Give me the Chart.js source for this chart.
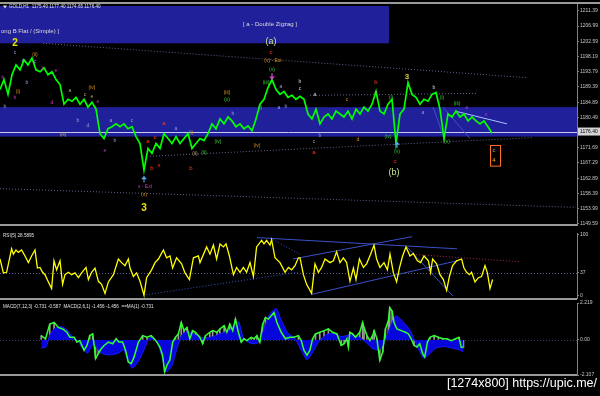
<!DOCTYPE html>
<html><head><meta charset="utf-8">
<script src="https://cdn.jsdelivr.net/npm/chart.js@4.4.1/dist/chart.umd.min.js"></script>
<style>
html,body{margin:0;padding:0;background:#000;width:600px;height:396px;overflow:hidden;position:relative}
canvas{position:absolute;left:0}
#src{position:absolute;right:3px;top:376px;color:#fff;font:12.5px "Liberation Sans",Arial,sans-serif;white-space:nowrap}
</style></head><body>
<canvas id="cMain" width="600" height="229" style="top:0"></canvas>
<canvas id="cRsi" width="600" height="73" style="top:229px"></canvas>
<canvas id="cMacd" width="600" height="97" style="top:299px"></canvas>
<div id="src">[1274x800] https://upic.me/</div>
<script>
// ================= DATA =================
const priceTicks = [1211.39,1206.99,1202.59,1198.19,1193.79,1189.39,1184.89,1180.49,1171.69,1167.29,1162.89,1158.39,1153.99,1149.59];
const lastPrice = 1176.40;
const priceClose = [
1188.60,1191.45,1187.17,1192.87,1195.72,1194.29,1197.14,1195.72,1197.71,1194.29,
1193.72,1194.86,1192.87,1193.72,1191.45,1190.02,1184.33,1185.75,1185.18,1186.32,
1184.33,1185.75,1183.47,1184.90,1182.90,1175.78,1174.36,1177.21,1177.78,1178.63,
1177.78,1178.63,1177.21,1177.78,1174.93,1172.93,1165.24,1171.51,1170.09,1172.93,
1171.51,1175.78,1174.36,1172.93,1174.93,1172.93,1174.36,1175.78,1171.51,1172.93,
1174.36,1173.79,1175.78,1178.63,1177.21,1180.05,1178.63,1180.62,1179.48,1177.78,
1178.63,1177.21,1178.06,1176.64,1180.05,1184.33,1185.75,1189.17,1191.45,1188.60,
1187.17,1188.03,1186.32,1186.89,1185.75,1186.60,1185.75,1181.48,1180.05,1182.90,
1178.63,1180.62,1181.48,1180.05,1182.33,1181.48,1180.62,1182.33,1180.05,1182.90,
1181.48,1183.47,1182.33,1184.33,1188.03,1182.33,1181.48,1184.33,1185.75,1172.93,
1181.48,1182.90,1190.59,1187.17,1186.32,1184.33,1185.75,1185.18,1187.17,1187.74,
1182.90,1174.36,1181.48,1180.62,1182.33,1180.62,1181.48,1179.48,1180.62,1179.48,
1178.63,1179.48,1177.78,1175.90];
const priceBars = priceClose.map((_, i) => i * 2);

const rsiTicks = [100, 37, 0];
const rsiBars = [0,1.7,3.3,5.8,6.7,8,9.2,10.8,12.5,14.2,15.8,17.5,18.7,20,21.3,22.5,24.2,25.8,27,28.3,
30,31.3,32.5,34.2,35.8,37.5,39.2,40.8,43,44.2,45.8,47.5,49.2,50.8,52.5,54.2,56.7,59.2,60.8,62.5,
64.2,65,66.7,68.3,70,72,73.3,75.8,77.5,79.2,81.7,83.3,85,86.3,88.3,90.8,92.5,94.7,96.7,99.2,
100,103.3,105,106.7,108.3,110,111.7,113,114.7,116.7,118.3,120,121.7,123.3,125,126.7,128.3,130.8,132,133.3,
135,135.8,137.5,140,142.5,144.2,145.8,147.5,149.2,
150,151.7,153.3,155.8,157.5,159.2,160.8,162.5,165,166.7,168.3,170,171.7,173.3,175,176.7,178,179.7,181.7,183.3,
185.3,187,188.3,190,192,193.7,195,196.7,198.3,199.7,201.3,203,205,206.7,208.7,210.3,212,214.2,215.3,216.3,
218.3,220,221.7,223.3,224.7,226.3,228.3,230.8,232,233.3,234.7,235.8,237.5,239.2,240.8,242.5,243.7,245,246.3];
const rsiValues = [60,37,38,77,68,75,71,75,65,54,65,75,45,46,38,34,22,11,57,42,
57,18,34,38,34,37,29,37,46,26,38,45,23,18,3,22,34,60,54,49,
60,45,31,37,23,0,29,42,54,60,75,62,65,45,62,52,37,26,62,65,
54,80,68,83,60,85,80,85,65,34,46,38,46,38,54,31,80,91,85,91,
83,92,62,54,38,46,42,49,62,
62,34,18,3,52,38,46,60,54,57,72,54,62,54,23,45,26,60,46,52,
68,83,60,46,54,42,68,37,22,45,65,80,65,69,57,54,65,57,38,60,
52,34,26,8,31,49,57,60,45,38,34,38,22,29,31,49,37,11,26];

const macdTicks = [2.219, 0, -2.107];
const macdBars = [0,2.5,5,7.5,10,12.5,15,16.7,19.2,20.8,22.5,25,26.7,28.3,30,30.8,31.7,33.3,35,36.7,
39.2,41.7,43.7,45.3,47.5,49.2,50.8,52.5,54.2,56.7,59.2,61.7,64.2,65.8,67.5,69.2,70.8,72,73.3,75,
76.7,78.3,80,81.7,83.3,85,86.7,88.3,90,92.5,94.2,95.8,98.3,100,102.5,104.2,106.7,108.3,110,111.7,
113.3,115,116.7,118.3,120,122.5,124.2,125.8,127.5,129.2,130.8,132.5,134.2,135.8,137.5,140,142.5,145,147.5,150,
151.7,153.3,155,156.7,158.3,160,162.5,165,167.5,170,172.5,175,176.7,178.3,179.2,180,181.7,183.3,185.8,187.5,
188.3,190,191.7,193.3,194.2,195.8,197.5,199.2,200.8,202.5,203.3,204.7,205.8,207.5,210,212.5,214.2,215.8,217.5,219.2,
220.8,222.5,223.7,225.3,226.7,229.2,231.7,234.2,236.7,239.2,241.7,243.7,245,246.3];
const macdFast = [0.26,0.07,0.95,1.05,0.75,0.66,0.46,0.16,0.16,-0.13,-0.04,-0.63,-0.33,0.26,0.36,-0.23,-1.12,-0.82,-0.53,-0.33,
-0.13,-0.23,0.07,-0.13,-0.13,-0.63,-1.32,-1.42,-1.02,-0.13,0.26,0.16,0.26,0.07,-0.13,-0.43,-0.92,-1.91,-1.52,-1.22,
-0.13,0.16,0.36,1.05,0.56,0.75,0.07,0.56,0.46,0.16,-0.23,0.26,0.46,0.56,0.46,0.66,0.85,0.46,0.95,0.56,
1.25,0.46,-0.13,0.07,-0.04,0.16,0.07,0.26,-0.13,0.95,1.35,1.25,1.45,1.64,1.05,0.46,0.07,0.16,0.16,0.26,
-0.04,-0.63,-0.92,-0.63,0.07,0.36,0.46,0.56,0.66,0.46,0.36,-0.33,-0.23,0.07,-0.43,0.46,0.36,0.16,0.46,1.05,
0.75,0.26,-0.04,0.26,0.56,0.07,-1.22,-0.73,0.66,1.15,1.94,1.74,1.05,0.66,0.56,0.46,0.36,0.07,-0.33,-0.43,
-0.23,-0.82,-1.02,-0.13,0.16,0.26,0.16,0.07,0.07,-0.04,0.07,0.16,-0.43,-0.45];
const signalBars = [0,3,5,8,12,15,18,21,24,27,30,32,35,40,45,48,50,53,56,60,63,66,69,73,76,79,82,85,90,95,
100,105,110,115,118,122,126,129,133,137,140,144,148,152,155,158,162,166,170,175,180,185,190,193,197,200,
204,207,211,215,219,223,226,230,235,240,244,246.3];
const signalValues = [-0.5,-0.4,0.3,0.7,0.8,0.6,0.2,0.0,-0.5,-0.8,-0.3,-0.4,-0.8,-0.9,-0.8,-0.6,-1.1,-1.7,-1.4,-0.6,
0.1,0.1,-0.5,-1.9,-1.6,-0.6,0.3,0.5,0.3,0.1,0.2,0.4,0.6,1.1,0.1,-0.2,-0.2,0.4,1.5,1.9,
1.2,0.4,0.1,-0.7,-1.2,-0.8,-0.1,0.3,0.4,0.2,0.3,0.2,-0.2,-0.5,-0.6,-0.2,0.9,1.45,1.1,0.6,
-0.3,-1.1,-0.9,-0.5,-0.4,-0.5,-0.6,-0.73];

// ================= ANNOTATIONS (data coordinates: bar, value) =================
const Y='#e6e600', R='#ff3c1e', O='#d8901c', G='#38c838', L='#9c9cdc', M='#c83cc8', W='#dcdcdc', T='#b4a46c', P='#c8e68c';
const mainZones = [[0,194.5,1212.81,1201.98,'#20209a'],[0,288.5,1183.47,1174.93,'#20209a']];
const mainLines = [
 [21.5,1201.98,264,1192.0,'#62628e',[1,2]],
 [155,1186.89,238.5,1187.46,'#62628e',[1,2]],
 [0,1159.83,288,1154.42,'#62628e',[1,2]],
 [75,1169.23,266.5,1174.64,'#62628e',[1,2]],
 [227.5,1182.33,253.5,1178.63,'#a8c0ff',[]],
 [216.5,1183.47,222.5,1173.79,'#4050c0',[]],
 [221.5,1183.47,235,1174.36,'#4050c0',[]]];
const waveLabels = [
 [0.5,1205.40,'ong B Flat / (Simple) ]',W,6,false,'left'],
 [135,1207.40,'[ a - Double Zigzag ]',W,6],
 [7.5,1201.98,'2',Y,10,true],[7.5,1199.14,'c',L,5],[11.5,1196.86,'a',L,5],[17.5,1198.57,'(ii)',O,5],
 [17.5,1196.57,'c',L,5],[21.5,1194.58,'b',M,5],[28,1194.01,'e',M,5],[9,1188.03,'(i)',O,5],
 [13.5,1190.59,'b',L,5],[7.5,1186.32,'b',M,5],[2.5,1183.76,'b',L,5],[1.5,1192.02,'b',M,5],
 [35,1188.31,'a',T,5],[46,1189.17,'(iv)',O,5],[42.5,1187.17,'c',T,5],[46,1186.60,'e',T,5],
 [49,1185.18,'e',M,5],[26,1184.90,'d',M,5],[39,1179.48,'b',L,5],[44,1178.06,'d',L,5],
 [31.5,1175.50,'(iii)',T,5],[55.5,1179.48,'a',L,5],[57.5,1173.79,'b',L,5],[66,1179.48,'c',L,5],
 [52.5,1170.94,'e',M,5],[74,1173.50,'a',R,6],[77.5,1174.64,'c',R,6],[82,1178.91,'a',R,6],
 [76,1165.81,'b',R,6],[79.5,1166.67,'x',R,6],[95.5,1165.81,'b',R,6],
 [72.5,1160.40,'x - Ext',M,5],[72,1158.12,'(v)',O,5],[72,1154.14,'3',Y,10,true],
 [88,1177.21,'a',L,5],[95.5,1176.07,'(i)',O,5],[97.5,1170.09,'(ii)',T,5],[102,1170.37,'(ii)',G,5],
 [109,1173.50,'(iv)',G,5],[128.5,1172.36,'(iv)',O,5],[113.5,1187.74,'(iii)',O,5],[113.5,1185.75,'(v)',G,5],
 [157,1173.50,'c','#a0a0a0',5],[160,1175.21,'b',L,5],[157,1170.37,'a',R,6],[179,1174.07,'d',O,5],
 [194,1174.93,'(iv)',G,5],[198.5,1170.66,'(v)',G,5],[197.5,1167.81,'c',R,6],[197,1164.39,'(b)',P,9],
 [135.5,1202.55,'(a)',P,9],[135.5,1199.42,'c',R,6],[136.5,1196.86,'(v) - Ext',O,5],[136,1194.29,'(v)',G,5],
 [133,1190.59,'(iii)',G,5],[140.5,1189.45,'a',L,5],[150,1190.88,'b',W,5],[150,1188.88,'c',W,5],
 [157.5,1187.17,'a',W,5],[173.5,1185.75,'c',O,5],[188,1190.59,'b',R,6],[188,1187.74,'e',T,5],
 [195.5,1186.32,'(i)',G,5],[203.5,1192.30,'3','#d8c840',8,true],[217,1189.17,'b',W,5],[221,1186.32,'(i)',G,5],
 [228.5,1184.61,'(iii)',G,5],[211.5,1181.76,'a',L,5],[233.5,1183.47,'e',M,5],[243,1181.19,'v',M,5],
 [223.5,1173.50,'(v)',G,5],[247,1170.94,'c',T,6],[247,1168.09,'4','#e8a020',6],
 [130,1183.19,'(i)',G,5],[139.5,1183.47,'a',L,5],[143,1183.76,'b',L,5],[116.5,1181.48,'b',L,5]];
const mainArrows = [[136,1192.30,-1,'#e040e0'],[72,1162.68,1,'#50a8f0'],[198.5,1172.65,1,'#50a8f0']];
const mainBoxes = [[245,250,1172.36,1166.38,'#ff7020']];
const rsiLines = [
 [128.5,95.4,228.5,76.9,'#3a50c8',[]],
 [136.5,92.3,150,67.7,'#3a50c8',[1,2]],
 [146.5,60,206,97,'#3a50c8',[]],
 [156,1.5,228.5,57,'#3a50c8',[]],
 [203.5,80,226.5,-1.5,'#3a50c8',[]],
 [206.5,67.7,260,55.4,'#a02848',[1,2]],
 [71.5,0,150,38.5,'#3a50c8',[1,2]]];

const FONT = '"Liberation Sans", Arial, sans-serif';
const overlays = {
 cMain: {zones: mainZones, hlines: [[lastPrice,'#c8c8f0',[]]], lines: mainLines, texts: waveLabels,
         arrows: mainArrows, boxes: mainBoxes, header: 'GOLD,H1  1175.40 1177.40 1174.65 1176.40',
         tag: lastPrice, borderTop: true, borderBottom: -1},
 cRsi: {hlines: [[37,'#5a5a8c',[1,2]]], lines: rsiLines, header: 'RSI(5) 28.5895', borderBottom: 0},
 cMacd: {hlines: [[0,'#3c3c64',[1,2]]], header: 'MACD(7,12,3) -0.731 -0.587  MACD(2,6,1) -1.456 -1.456  ==MA(1) -0.731', borderBottom: -1}
};

const ovl = {
 id: 'ovl',
 beforeDatasetsDraw(chart) {
   const o = overlays[chart.canvas.id]; if (!o) return;
   const {ctx, chartArea: a, scales: {x, y}} = chart;
   ctx.save();
   ctx.beginPath(); ctx.rect(a.left, a.top, a.right - a.left, a.bottom - a.top); ctx.clip();
   (o.zones || []).forEach(z => {
     const x0 = x.getPixelForValue(z[0]), x1 = x.getPixelForValue(z[1]);
     const y0 = y.getPixelForValue(z[2]), y1 = y.getPixelForValue(z[3]);
     ctx.fillStyle = z[4]; ctx.fillRect(x0, y0, x1 - x0, y1 - y0);
   });
   (o.hlines || []).forEach(h => {
     const yy = Math.round(y.getPixelForValue(h[0])) + 0.5;
     ctx.strokeStyle = h[1]; ctx.lineWidth = 1; ctx.setLineDash(h[2]);
     ctx.beginPath(); ctx.moveTo(a.left, yy); ctx.lineTo(a.right, yy); ctx.stroke();
   });
   (o.lines || []).forEach(l => {
     ctx.strokeStyle = l[4]; ctx.lineWidth = 1; ctx.setLineDash(l[5]);
     ctx.beginPath();
     ctx.moveTo(x.getPixelForValue(l[0]), y.getPixelForValue(l[1]));
     ctx.lineTo(x.getPixelForValue(l[2]), y.getPixelForValue(l[3]));
     ctx.stroke();
   });
   ctx.restore();
 },
 afterDraw(chart) {
   const o = overlays[chart.canvas.id]; if (!o) return;
   const {ctx, chartArea: a, scales: {x, y}} = chart;
   ctx.save();
   ctx.setLineDash([]);
   (o.boxes || []).forEach(b => {
     const x0 = x.getPixelForValue(b[0]), x1 = x.getPixelForValue(b[1]);
     const y0 = y.getPixelForValue(b[2]), y1 = y.getPixelForValue(b[3]);
     ctx.strokeStyle = b[4]; ctx.lineWidth = 1; ctx.strokeRect(Math.round(x0)+0.5, Math.round(y0)+0.5, x1 - x0, y1 - y0);
   });
   (o.texts || []).forEach(t => {
     ctx.font = (t[5] ? 'bold ' : '') + t[4] + 'px ' + FONT;
     ctx.fillStyle = t[3]; ctx.textAlign = t[6] || 'center'; ctx.textBaseline = 'middle';
     ctx.fillText(t[2], x.getPixelForValue(t[0]), y.getPixelForValue(t[1]));
   });
   (o.arrows || []).forEach(ar => {
     const px = x.getPixelForValue(ar[0]), py = y.getPixelForValue(ar[1]), d = ar[2];
     ctx.fillStyle = ar[3]; ctx.strokeStyle = ar[3]; ctx.lineWidth = 1.2;
     ctx.beginPath(); ctx.moveTo(px, py); ctx.lineTo(px, py + 3.5 * d); ctx.stroke();
     ctx.beginPath(); ctx.moveTo(px, py - 3 * d); ctx.lineTo(px - 2.8, py + 0.3 * d); ctx.lineTo(px + 2.8, py + 0.3 * d); ctx.closePath(); ctx.fill();
   });
   if (o.header) {
     ctx.font = '4.6px ' + FONT; ctx.fillStyle = '#e0e0e0'; ctx.textAlign = 'left'; ctx.textBaseline = 'middle';
     const hx = chart.canvas.id === 'cMain' ? 9 : 3;
     const hy = a.top + (chart.canvas.id === 'cMacd' ? 4 : 3);
     ctx.fillText(o.header, hx, hy);
     if (chart.canvas.id === 'cMain') {
       ctx.beginPath(); ctx.moveTo(3, hy - 1.5); ctx.lineTo(7, hy - 1.5); ctx.lineTo(5, hy + 1.5); ctx.closePath(); ctx.fill();
     }
   }
   if (o.tag !== undefined) {
     const yy = y.getPixelForValue(o.tag);
     ctx.fillStyle = '#d4d4d4'; ctx.fillRect(a.right + 1, yy - 4, 22, 8);
     ctx.fillStyle = '#000'; ctx.font = '5px ' + FONT; ctx.textAlign = 'left'; ctx.textBaseline = 'middle';
     ctx.fillText(o.tag.toFixed(2), a.right + 3, yy);
   }
   ctx.fillStyle = '#9a9a9a';
   if (o.borderTop) ctx.fillRect(0, a.top - 2, chart.width, 2);
   if (o.borderBottom !== undefined) ctx.fillRect(0, a.bottom + o.borderBottom, a.right, 2);
   ctx.restore();
 }
};
Chart.register(ovl);

function yAxis(min, max, ticks, fmt) {
  return {
    position: 'right', min, max,
    afterFit(s) { s.width = 23; },
    afterBuildTicks(s) { s.ticks = ticks.map(v => ({value: v})); },
    ticks: {autoSkip: false, maxRotation: 0, color: '#c8c8c8', padding: 1, font: {family: FONT, size: 5}, callback: fmt},
    grid: {display: true, drawOnChartArea: false, drawTicks: true, tickLength: 2, color: '#808080'},
    border: {display: true, color: '#808080', width: 1}
  };
}
function opts(padTop, padBottom, y) {
  return {
    responsive: false, animation: false, devicePixelRatio: 1, events: [],
    layout: {padding: {top: padTop, bottom: padBottom, left: 0, right: 0}},
    plugins: {legend: {display: false}, tooltip: {enabled: false}},
    scales: {x: {type: 'linear', min: 0, max: 288.5, display: false}, y}
  };
}

new Chart(document.getElementById('cMain'), {
  type: 'line',
  data: {datasets: [{
    data: priceClose.map((v, i) => ({x: priceBars[i], y: v})),
    borderColor: '#00ff00', borderWidth: 1.7, pointRadius: 0, tension: 0
  }]},
  options: opts(3, 1, yAxis(1149.30, 1213.38, priceTicks, v => Number(v).toFixed(2)))
});

new Chart(document.getElementById('cRsi'), {
  type: 'line',
  data: {datasets: [{
    data: rsiValues.map((v, i) => ({x: rsiBars[i], y: v})),
    borderColor: '#ffff00', borderWidth: 1.3, pointRadius: 0, tension: 0
  }]},
  options: opts(1, 2, yAxis(-4.62, 103.08, rsiTicks, v => String(v)))
});

new Chart(document.getElementById('cMacd'), {
  type: 'line',
  data: {datasets: [
    {type: 'line', order: 0, data: macdFast.map((v, i) => ({x: macdBars[i], y: v})),
     borderColor: '#30ff30', borderWidth: 1.5, pointRadius: 0, tension: 0},
    {type: 'line', order: 1, data: signalValues.map((v, i) => ({x: signalBars[i], y: v})),
     borderColor: '#1a1aff', backgroundColor: '#0606dc', borderWidth: 1, pointRadius: 0, tension: 0.2, fill: 'origin'},
    {type: 'bar', order: 2, data: macdFast.map((v, i) => ({x: macdBars[i], y: v})),
     backgroundColor: '#9a9a9a', barThickness: 1}
  ]},
  options: opts(3, 21, yAxis(-2.107, 2.219, macdTicks, v => (v === 0 ? '0.00' : String(v))))
});
</script>
</body></html>
